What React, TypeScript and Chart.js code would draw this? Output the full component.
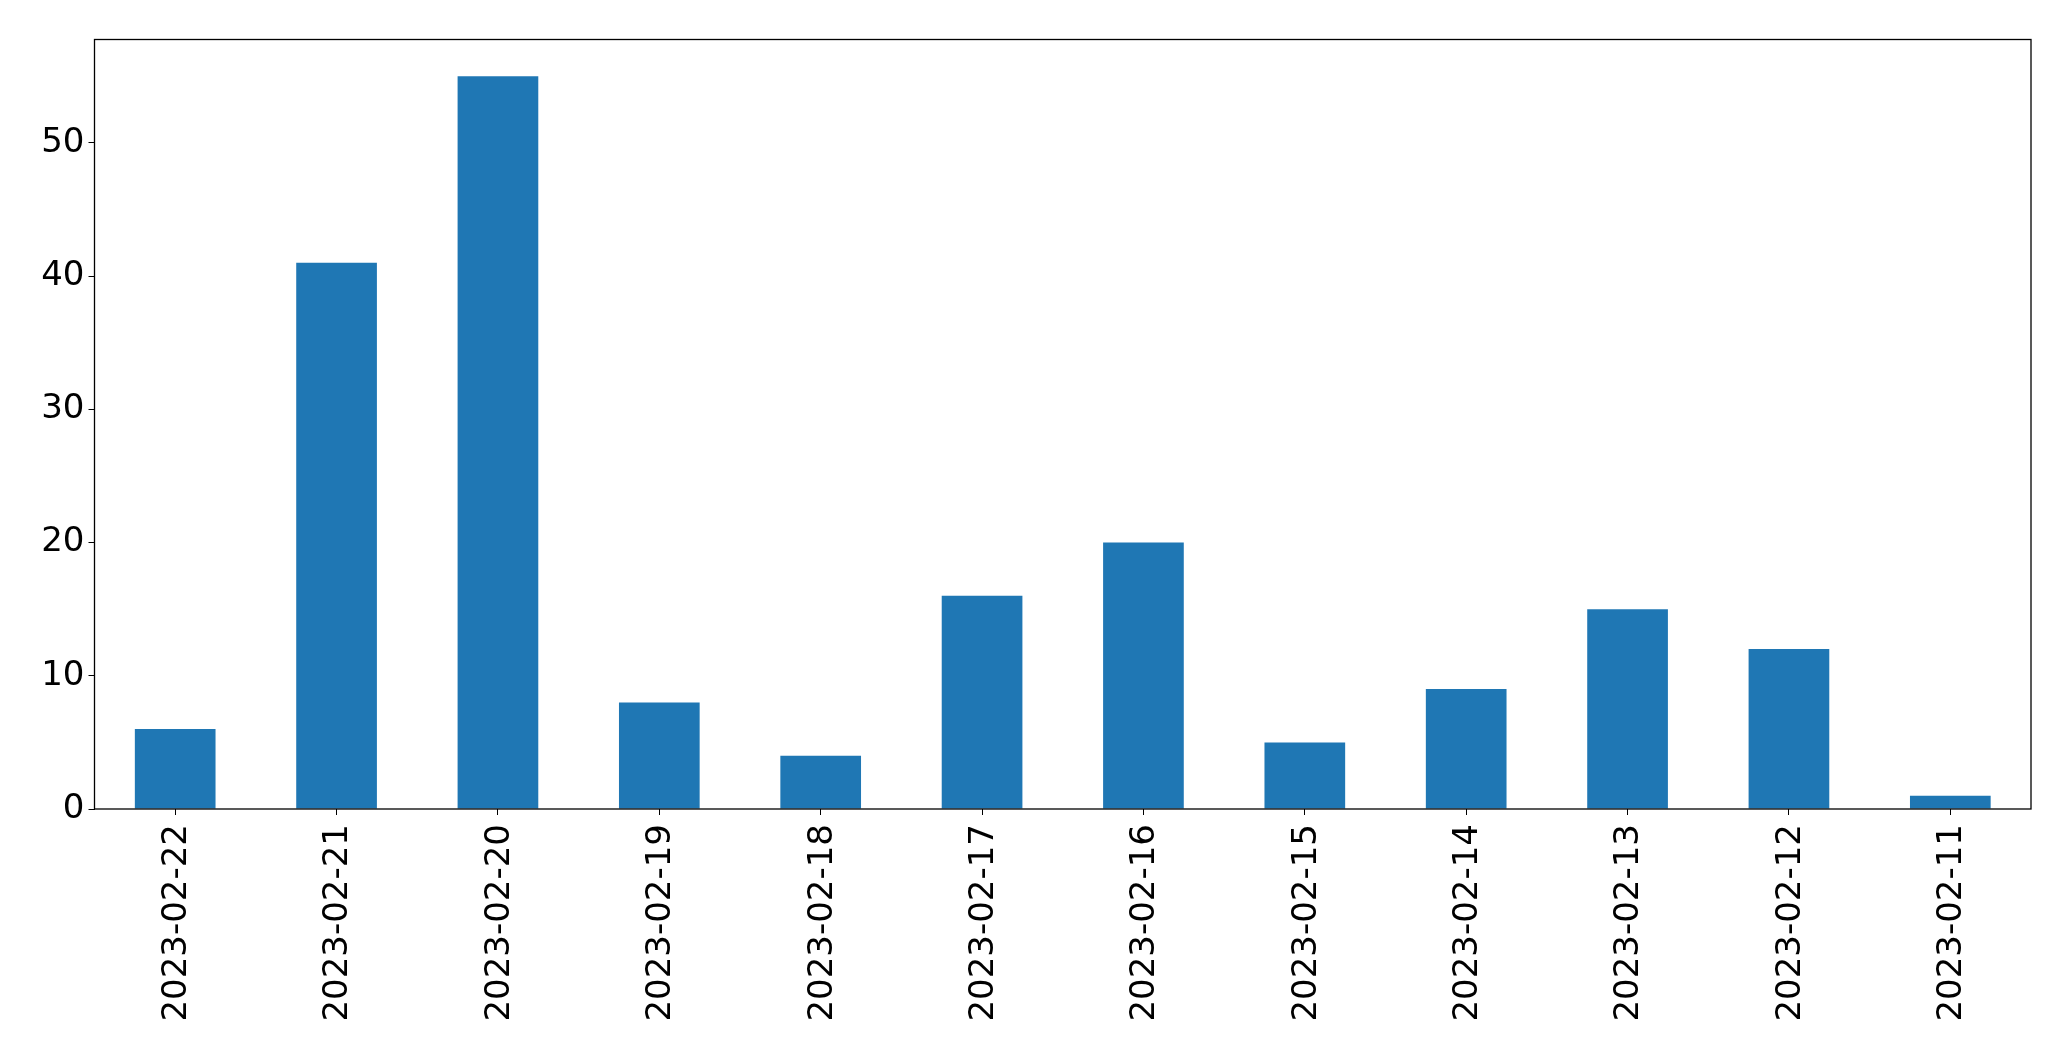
import React, { useEffect, useRef } from "react";
import { Chart, registerables } from "chart.js";

Chart.register(...registerables);

const categories = [
  "2023-02-22", "2023-02-21", "2023-02-20", "2023-02-19", "2023-02-18", "2023-02-17",
  "2023-02-16", "2023-02-15", "2023-02-14", "2023-02-13", "2023-02-12", "2023-02-11",
];
const values = [6, 41, 55, 8, 4, 16, 20, 5, 9, 15, 12, 1];
const yTicks = [0, 10, 20, 30, 40, 50];
const yMax = 57.75;

const W = 2071;
const H = 1061;

const boxPlugin = {
  id: "boxPlugin",
  afterDraw(chart: any) {
    const { ctx, chartArea } = chart;
    ctx.save();
    ctx.strokeStyle = "#000";
    ctx.lineWidth = 1.3;
    ctx.strokeRect(chartArea.left, chartArea.top, chartArea.right - chartArea.left, chartArea.bottom - chartArea.top);
    ctx.restore();
  },
};

export default function App() {
  const ref = useRef<HTMLCanvasElement | null>(null);
  useEffect(() => {
    if (!ref.current) return;
    const font = { family: "DejaVu Sans", size: 34 };
    const chart = new Chart(ref.current, {
      type: "bar",
      data: {
        labels: categories,
        datasets: [
          {
            data: values,
            backgroundColor: "#1f77b4",
            barPercentage: 0.5,
            categoryPercentage: 1,
          },
        ],
      },
      options: {
        animation: false,
        responsive: false,
        devicePixelRatio: 1,
        layout: { padding: { left: 0, top: 39.5, right: 40, bottom: 0 } },
        plugins: { legend: { display: false }, tooltip: { enabled: false } },
        scales: {
          x: {
            offset: true,
            grid: { display: true, drawOnChartArea: false, drawTicks: true, tickLength: 6, color: "#000", offset: false },
            border: { display: false },
            ticks: { font, color: "#000", maxRotation: 90, minRotation: 90, padding: 9, autoSkip: false, labelOffset: 2 },
            afterFit(scale: any) {
              scale.height = H - 809;
            },
          },
          y: {
            min: 0,
            max: yMax,
            afterBuildTicks(scale: any) {
              scale.ticks = yTicks.map((v) => ({ value: v }));
            },
            grid: { display: true, drawOnChartArea: false, drawTicks: true, tickLength: 6, color: "#000" },
            border: { display: false },
            ticks: { font, color: "#000", padding: 4 },
            afterFit(scale: any) {
              scale.width = 94.5;
            },
          },
        },
      },
      plugins: [boxPlugin],
    });
    return () => chart.destroy();
  }, []);
  return (
    <div style={{ position: "fixed", left: 0, top: 0, width: W, height: H, background: "#fff" }}>
      <canvas ref={ref} width={W} height={H} style={{ width: W, height: H }} />
    </div>
  );
}
